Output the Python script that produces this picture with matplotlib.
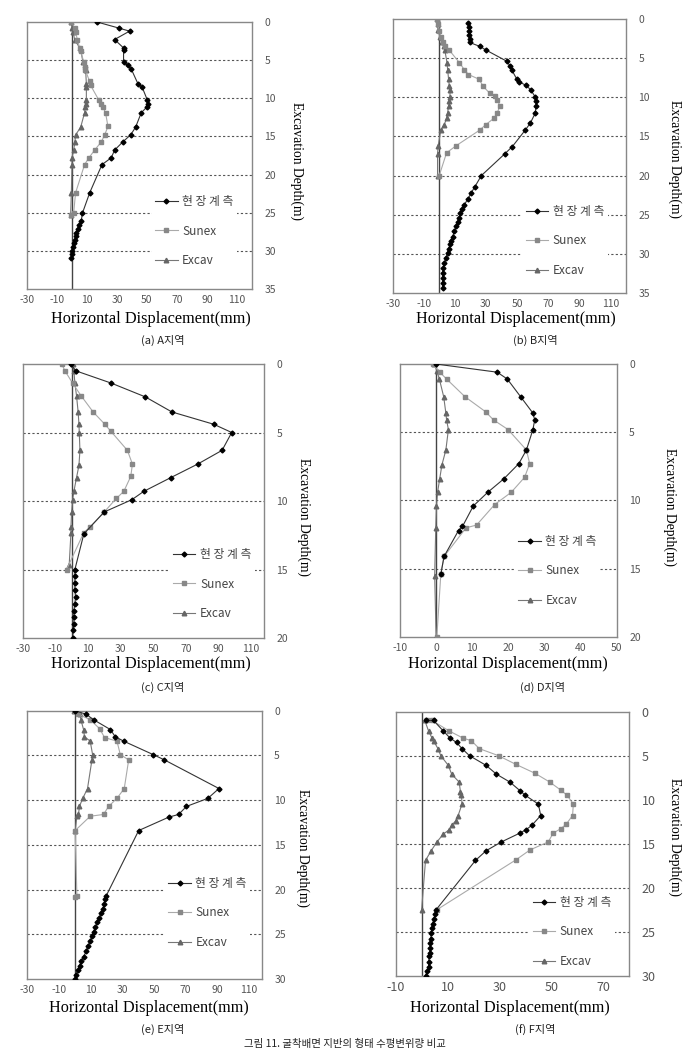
import matplotlib.pyplot as plt
import numpy as np

plt.rcParams['font.family'] = ['Noto Sans CJK KR', 'DejaVu Sans']
plt.rcParams['axes.unicode_minus'] = False

# ---- (a) A지역 ----
a_field_x = [16.7, 31.3, 38.4, 28.4, 34.4, 34.4, 34.4, 37.3, 39.6, 44.0, 46.7, 50.2, 50.7, 50.2, 46.2,
             42.4, 39.1, 34.0, 28.4, 26.2, 20.0, 11.8, 6.9, 6.2, 4.7, 4.0, 2.9, 2.4, 1.8, 1.1, 0.7, 0.2, 0.0, -0.4]
a_field_d = [0, 0.8, 1.2, 2.3, 3.4, 3.7, 5.3, 5.7, 6.2, 8.1, 8.5, 10.2, 10.7, 11.1, 11.9,
             13.8, 14.8, 15.7, 16.8, 17.8, 18.7, 22.4, 25.1, 26.1, 26.6, 27.1, 27.6, 28.1, 28.6, 29.0, 29.5, 30.0, 30.4, 30.9]
a_sunex_x = [-0.4, 1.8, 2.4, 3.6, 5.1, 5.8, 7.8, 8.4, 8.9, 11.8, 12.4, 17.8, 19.6, 20.7, 22.4, 24.0,
             21.8, 19.6, 15.1, 11.3, 8.4, 2.4, 1.1, -0.4]
a_sunex_d = [0, 0.8, 1.3, 2.3, 3.4, 3.8, 5.2, 5.9, 6.3, 7.8, 8.3, 10.2, 10.7, 11.2, 11.9, 13.7,
             14.8, 15.7, 16.8, 17.8, 18.7, 22.4, 25.1, 25.3]
a_excav_x = [-0.4, 0.0, 0.7, 1.8, 5.1, 5.8, 7.3, 8.4, 9.1, 9.6, 9.6, 9.6, 9.1, 8.9, 8.4, 5.8,
             2.4, 2.0, 1.1, 0.0, 0.0, -0.4, -0.9]
a_excav_d = [0, 0.8, 1.3, 2.3, 3.4, 3.7, 5.2, 5.7, 6.3, 8.1, 8.5, 10.2, 10.7, 11.2, 11.9, 13.8,
             14.8, 15.7, 16.8, 17.8, 18.7, 22.4, 25.3]

# ---- (b) B지역 ----
b_field_x = [18.4, 19.1, 19.1, 19.1, 19.5, 19.5, 26.0, 30.3, 43.4, 45.5, 46.6, 49.9, 51.0, 56.0, 59.0,
             61.8, 62.5, 62.2, 61.8, 58.6, 55.3, 47.0, 42.3, 27.1, 22.7, 20.6, 18.4, 16.2, 14.5, 13.6,
             13.0, 11.9, 10.8, 9.7, 8.6, 7.5, 6.9, 6.0, 5.4, 4.3, 3.2, 2.6, 2.1, 2.1, 2.1, 2.1]
b_field_d = [0.5, 1.0, 1.5, 2.0, 2.5, 3.0, 3.5, 4.0, 5.4, 6.0, 6.5, 7.7, 8.0, 8.5, 9.1,
             10.0, 10.5, 11.1, 12.0, 13.3, 14.2, 16.3, 17.2, 20.0, 21.5, 22.2, 23.0, 23.7, 24.3, 24.8,
             25.4, 25.9, 26.5, 27.1, 27.8, 28.3, 28.8, 29.4, 29.9, 30.5, 31.2, 31.8, 32.4, 33.1, 33.7, 34.4]
b_sunex_x = [-1.6, -0.7, 0.0, 1.0, 2.1, 3.6, 6.5, 13.0, 16.2, 18.8, 25.6, 28.2, 32.5, 35.8, 37.3, 39.0,
             37.3, 35.1, 29.9, 26.0, 10.8, 4.7, 0.0]
b_sunex_d = [0, 0.6, 1.5, 2.3, 3.0, 3.5, 4.0, 5.6, 6.5, 7.1, 7.7, 8.6, 9.5, 9.9, 10.3, 11.1,
             12.0, 12.7, 13.5, 14.2, 16.2, 17.1, 20.0]
b_excav_x = [-1.6, -1.1, -0.7, 0.4, 1.5, 2.8, 3.6, 5.0, 5.4, 6.0, 6.5, 6.9, 6.9, 6.5, 6.0, 5.4,
             4.7, 3.2, 1.0, -0.7, -1.1, -1.1]
b_excav_d = [0, 0.6, 1.4, 2.3, 3.0, 3.5, 4.0, 5.6, 6.5, 7.7, 8.6, 9.1, 10.0, 10.5, 11.1, 12.0,
             12.7, 13.5, 14.2, 16.2, 17.2, 20.0]

# ---- (c) C지역 ----
c_field_x = [-0.6, 2.6, 24.4, 45.2, 61.5, 87.2, 98.2, 92.3, 77.4, 60.7, 44.2, 37.0, 20.0, 7.5,
             2.0, 2.0, 2.0, 2.0, 2.4, 2.0, 1.4, 1.4, 1.4, 1.0, 0.6]
c_field_d = [0, 0.5, 1.4, 2.4, 3.5, 4.4, 5.0, 6.3, 7.3, 8.3, 9.3, 9.9, 10.8, 12.4,
             15.0, 15.5, 16.0, 16.5, 17.0, 17.5, 18.0, 18.5, 19.0, 19.4, 20.0]
c_sunex_x = [-6.1, -4.1, 0.6, 5.7, 13.2, 20.4, 24.0, 34.2, 37.3, 36.3, 32.0, 27.5, 20.0, 11.2, 7.5, -3.1]
c_sunex_d = [0, 0.5, 1.4, 2.3, 3.5, 4.4, 4.9, 6.3, 7.3, 8.2, 9.3, 9.8, 10.8, 11.9, 12.3, 15.0]
c_excav_x = [1.0, 1.4, 2.0, 3.0, 4.0, 4.5, 4.7, 5.1, 4.5, 3.0, 1.4, 0.6, 0.0, -0.4, -0.4, -1.5]
c_excav_d = [0, 0.5, 1.4, 2.3, 3.5, 4.4, 5.0, 6.3, 7.4, 8.3, 9.3, 9.9, 10.8, 11.9, 12.3, 14.7]

# ---- (d) D지역 ----
d_field_x = [-0.1, 16.9, 19.7, 23.4, 26.8, 27.3, 26.8, 25.0, 22.9, 18.8, 14.3, 10.3, 7.3, 6.2, 2.2, 1.3]
d_field_d = [0, 0.6, 1.1, 2.4, 3.6, 4.1, 4.8, 6.3, 7.3, 8.4, 9.4, 10.4, 11.9, 12.2, 14.1, 15.4]
d_sunex_x = [-1.0, 1.0, 2.9, 8.0, 13.7, 15.9, 19.9, 25.0, 25.9, 24.5, 20.8, 16.2, 11.2, 8.3, 2.2, 1.3, 0.2]
d_sunex_d = [0, 0.6, 1.1, 2.4, 3.5, 4.1, 4.8, 6.3, 7.3, 8.3, 9.4, 10.3, 11.8, 12.0, 14.1, 15.4, 20.0]
d_excav_x = [-0.5, 0.2, 0.9, 2.1, 2.7, 2.9, 3.4, 2.7, 1.6, 1.0, 0.4, 0.1, -0.1, -0.4, 0.0]
d_excav_d = [0, 0.5, 1.1, 2.4, 3.6, 4.1, 4.8, 6.3, 7.4, 8.4, 9.4, 10.4, 12.0, 15.5, 20.0]

# ---- (e) E지역 ----
e_field_x = [0.2, 7.2, 11.8, 22.4, 25.5, 30.8, 49.4, 56.6, 91.0, 84.0, 70.5, 65.5, 59.3, 40.3,
             19.8, 18.8, 18.6, 17.5, 16.5, 15.4, 14.3, 12.9, 11.8, 10.8, 9.7, 8.2, 7.2, 5.5, 4.0, 3.0, 1.9, 0.8, 0.2]
e_field_d = [0, 0.4, 1.0, 2.1, 2.9, 3.4, 4.9, 5.5, 8.7, 9.8, 10.7, 11.6, 11.9, 13.4,
             20.7, 21.1, 21.6, 22.2, 22.6, 23.2, 23.6, 24.2, 24.7, 25.2, 25.8, 26.3, 26.9, 27.5, 28.0, 28.5, 29.0, 29.5, 30.0]
e_sunex_x = [0.2, 2.3, 9.7, 15.6, 18.8, 26.6, 28.7, 34.0, 31.2, 26.6, 21.3, 18.1, 9.7, 0.2, 1.3, 0.2]
e_sunex_d = [0, 0.4, 1.0, 2.0, 3.0, 3.4, 4.9, 5.5, 8.7, 9.8, 10.7, 11.6, 11.8, 13.4, 20.7, 20.8]
e_excav_x = [-0.4, 3.4, 3.8, 5.5, 6.1, 9.7, 11.2, 10.8, 8.0, 5.0, 2.9, 2.3, 1.3, 0.2]
e_excav_d = [0, 0.4, 1.0, 2.1, 2.9, 3.4, 4.9, 5.5, 8.7, 9.8, 10.7, 11.6, 11.8, 13.5]

# ---- (f) F지역 ----
f_field_x = [1.4, 4.5, 8.3, 10.9, 13.4, 15.5, 18.4, 24.8, 28.8, 34.0, 38.0, 39.9, 45.0, 45.9, 42.5,
             40.3, 37.8, 30.7, 24.8, 20.7, 5.5, 5.2, 4.5, 4.2, 3.9, 3.6, 3.5, 3.3, 3.3, 3.0, 2.9, 2.6, 2.6, 2.0, 1.4]
f_field_d = [1.0, 1.0, 2.2, 3.0, 3.5, 4.2, 5.0, 6.1, 7.1, 8.0, 9.0, 9.5, 10.5, 11.8, 12.9,
             13.4, 13.8, 14.8, 15.8, 16.9, 22.5, 23.0, 23.6, 24.1, 24.6, 25.2, 25.8, 26.3, 26.9, 27.4, 27.8, 28.4, 29.0, 29.5, 30.0]
f_sunex_x = [2.0, 3.9, 10.6, 15.9, 19.1, 22.2, 29.6, 36.4, 43.7, 49.4, 53.6, 56.1, 58.5, 58.2, 55.7,
             53.6, 50.7, 48.8, 41.8, 36.5, 5.8]
f_sunex_d = [1.0, 1.0, 2.2, 3.0, 3.3, 4.2, 5.0, 6.0, 7.0, 8.0, 8.9, 9.5, 10.5, 11.8, 12.8,
             13.3, 13.8, 14.8, 15.7, 16.8, 22.5]
f_excav_x = [1.1, 2.6, 3.9, 4.5, 6.2, 7.3, 10.2, 11.5, 14.4, 14.9, 15.3, 15.5, 14.0, 13.1, 11.5,
             10.6, 8.3, 5.8, 3.6, 1.4, -0.1]
f_excav_d = [1.0, 2.2, 3.0, 3.3, 4.2, 5.0, 6.1, 7.1, 8.0, 9.1, 9.5, 10.5, 11.8, 12.4, 12.9,
             13.4, 13.9, 14.8, 15.8, 16.9, 22.5]

captions = ['(a) A지역', '(b) B지역', '(c) C지역', '(d) D지역', '(e) E지역', '(f) F지역']
series_labels = ['현 장 계 측', 'Sunex', 'Excav']

# axes rect [left, bottom, width, height]
rects = [
    [0.0391, 0.7253, 0.326, 0.2538],
    [0.569, 0.7215, 0.338, 0.2605],
    [0.0329, 0.3935, 0.3497, 0.2605],
    [0.5797, 0.3945, 0.3141, 0.2595],
    [0.0396, 0.0694, 0.3397, 0.255],
    [0.5739, 0.0725, 0.3377, 0.251],
]
xlims = [(-30, 120), (-30, 120), (-30, 118), (-10, 50), (-30, 118), (-10, 80)]
xtick_sets = [np.arange(-30, 111, 20), np.arange(-30, 111, 20), np.arange(-30, 111, 20),
              np.arange(-10, 51, 10), np.arange(-30, 111, 20), np.arange(-10, 71, 20)]
dmax = [35, 35, 20, 20, 30, 30]
ylabel_pos = [(1.20, 0.48), (1.21, 0.49), (1.166, 0.44), (1.246, 0.476), (1.176, 0.49), (1.197, 0.525)]
xlabel_pos = [(0.55, -0.082), (0.53, -0.066), (0.53, -0.066), (0.50, -0.070), (0.52, -0.078), (0.49, -0.091)]
legend_pos = [(0.744, 0.217), (0.739, 0.19), (0.785, 0.197), (0.727, 0.242), (0.769, 0.246), (0.755, 0.166)]
caption_xy = [(163, 340), (535, 340), (163, 687), (542, 687), (163, 1029), (535, 1029)]
tick_fs = [7.5, 7.5, 7.5, 7.5, 7.5, 9]

data = [
    (a_field_x, a_field_d, a_sunex_x, a_sunex_d, a_excav_x, a_excav_d),
    (b_field_x, b_field_d, b_sunex_x, b_sunex_d, b_excav_x, b_excav_d),
    (c_field_x, c_field_d, c_sunex_x, c_sunex_d, c_excav_x, c_excav_d),
    (d_field_x, d_field_d, d_sunex_x, d_sunex_d, d_excav_x, d_excav_d),
    (e_field_x, e_field_d, e_sunex_x, e_sunex_d, e_excav_x, e_excav_d),
    (f_field_x, f_field_d, f_sunex_x, f_sunex_d, f_excav_x, f_excav_d),
]

W, H = 690, 1052
fig = plt.figure(figsize=(W / 100, H / 100), dpi=100)

for i in range(6):
    ax = fig.add_axes(rects[i])
    fx, fd, sx, sd, ex, ed = data[i]

    for yv in range(5, dmax[i], 5):
        ax.axhline(yv, color='#555555', lw=0.8, ls=(0, (2, 2)), zorder=1)
    ax.axvline(0, color='#444444', lw=1.0, zorder=2)

    ax.plot(ex, ed, color='#777777', lw=0.8, marker='^', ms=3.3, mfc='#666666', mec='#666666',
            label=series_labels[2], zorder=3)
    ax.plot(sx, sd, color='#aaaaaa', lw=0.8, marker='s', ms=3.0, mfc='#888888', mec='#888888',
            label=series_labels[1], zorder=4)
    ax.plot(fx, fd, color='#333333', lw=0.8, marker='D', ms=2.5, mfc='black', mec='black',
            label=series_labels[0], zorder=5)

    ax.set_xlim(*xlims[i])
    ax.set_ylim(dmax[i], 0)
    ax.set_xticks(xtick_sets[i])
    ax.set_yticks(np.arange(0, dmax[i] + 1, 5))
    ax.yaxis.tick_right()
    ax.tick_params(length=0, labelsize=tick_fs[i], labelcolor='#555555')
    ax.tick_params(axis='y', pad=9)
    ax.tick_params(axis='x', pad=4)
    for s in ax.spines.values():
        s.set_color('#888888')
        s.set_linewidth(1.0)

    ax.set_xlabel('Horizontal Displacement(mm)', family='Liberation Serif', fontsize=11.7)
    ax.xaxis.set_label_coords(*xlabel_pos[i])
    ax.yaxis.set_label_position('right')
    ax.set_ylabel('Excavation Depth(m)', family='Liberation Serif', fontsize=9.8, rotation=-90,
                  va='center')
    ax.yaxis.set_label_coords(*ylabel_pos[i])

    h, l = ax.get_legend_handles_labels()
    order = [2, 1, 0]
    leg = ax.legend([h[k] for k in order], [l[k] for k in order], loc='center',
                    bbox_to_anchor=legend_pos[i], fontsize=8.5, labelspacing=1.4,
                    handlelength=1.9, handletextpad=0.4, borderpad=0.3,
                    frameon=True, fancybox=False, edgecolor='none', facecolor='white', framealpha=1)
    for t in leg.get_texts():
        t.set_color('#444444')
    leg.set_zorder(10)

    cx, cy = caption_xy[i]
    fig.text(cx / W, 1 - cy / H, captions[i], ha='center', va='center', fontsize=8, color='#222222')

fig.text(0.5, 1 - 1044 / H, '그림 11. 굴착배면 지반의 형태 수평변위량 비교', ha='center', va='center',
         fontsize=7.5, color='#222222')

fig.savefig('out.png', dpi=100)
